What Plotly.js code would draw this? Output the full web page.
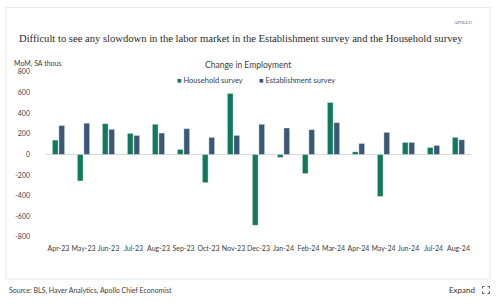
<!DOCTYPE html>
<html>
<head>
<meta charset="utf-8">
<script src="https://cdn.plot.ly/plotly-3.0.1.min.js"></script>
<style>
  html, body { margin: 0; padding: 0; background: #ffffff; }
  #chart { width: 500px; height: 304px; }
</style>
</head>
<body>
<div id="chart"></div>
<script>
// ---- Data (MoM, SA thousands) ----
const months = ["Apr-23","May-23","Jun-23","Jul-23","Aug-23","Sep-23","Oct-23","Nov-23","Dec-23",
                "Jan-24","Feb-24","Mar-24","Apr-24","May-24","Jun-24","Jul-24","Aug-24"];
const household = [140, -257, 299, 205, 293, 49, -273, 592, -686, -29, -185, 504, 26, -407, 117, 68, 166];
const establishment = [281, 303, 244, 185, 208, 251, 166, 185, 293, 257, 241, 309, 107, 215, 117, 88, 143];
const yTicks = [-800, -600, -400, -200, 0, 200, 400, 600, 800];
const seriesNames = ["Household survey", "Establishment survey"];

// ---- Layout geometry helpers ----
const W = 500, H = 304;
const M = {l: 46, r: 29, t: 72, b: 67};
const PW = W - M.l - M.r, PH = H - M.t - M.b;
const px = x => (x - M.l) / PW;
const py = y => (H - M.b - y) / PH;

const GREEN = "#13795d";
const BLUE = "#3c5877";
const TEXT = "#404040";
const SANS = "Lato, Open Sans, sans-serif";

const traces = [
  {
    type: "bar", name: seriesNames[0], x: months, y: household, showlegend: false,
    marker: {color: GREEN, line: {color: "rgba(255,255,255,0.7)", width: 0.5}},
    hoverinfo: "x+y+name"
  },
  {
    type: "bar", name: seriesNames[1], x: months, y: establishment, showlegend: false,
    marker: {color: BLUE, line: {color: "rgba(255,255,255,0.7)", width: 0.5}},
    hoverinfo: "x+y+name"
  }
];

// corner icon for "Expand"
function cornerPaths(cx, cy, s, a) {
  const p = [];
  const c = [[-1,-1],[1,-1],[-1,1],[1,1]];
  c.forEach(([dx, dy]) => {
    const x0 = cx + dx * s, y0 = cy + dy * s;
    p.push({type: "path", xref: "paper", yref: "paper",
      path: `M ${px(x0 - dx * a)} ${py(y0)} L ${px(x0)} ${py(y0)} L ${px(x0)} ${py(y0 - dy * a)}`,
      line: {color: "#555", width: 1}});
  });
  return p;
}

const legendAnn = (x, color, name) => ({
  xref: "paper", yref: "paper", x: px(x), y: py(80.7), xanchor: "left", yanchor: "middle",
  text: `<span style="color:${color}">■</span> ${name}`, showarrow: false,
  font: {family: SANS, size: 7.5, color: TEXT}
});

const layout = {
  width: W, height: H,
  margin: M,
  paper_bgcolor: "#ffffff", plot_bgcolor: "#ffffff",
  font: {family: SANS, size: 7, color: TEXT},
  barmode: "group", bargap: 0.48, bargroupgap: 0.12,
  showlegend: false,
  xaxis: {
    type: "category", categoryorder: "array", categoryarray: months,
    range: [-0.5, months.length - 0.5],
    showgrid: false, zeroline: false, showline: false, ticks: "",
    ticklabelstandoff: 6, tickangle: 0,
    tickfont: {family: SANS, size: 7, color: TEXT}
  },
  xaxis2: {
    overlaying: "x", anchor: "free", position: 0.5, side: "bottom",
    type: "linear", range: [-0.5, months.length - 0.5],
    tickmode: "linear", tick0: -0.5, dtick: 1,
    ticks: "outside", ticklen: 3, tickwidth: 1, tickcolor: "#d9d9d9",
    showticklabels: false, showgrid: false, zeroline: false, showline: false
  },
  yaxis: {
    range: [-800, 800], tickvals: yTicks, ticktext: yTicks.map(String),
    showgrid: false, zeroline: true, zerolinecolor: "#d9d9d9", zerolinewidth: 1,
    showline: false, ticks: "", ticklabelstandoff: 15,
    tickfont: {family: SANS, size: 7, color: TEXT}
  },
  annotations: [
    {xref: "paper", yref: "paper", x: px(16.5), y: py(38.5), xanchor: "left", yanchor: "middle",
     text: "Difficult to see any slowdown in the labor market in the Establishment survey and the Household survey",
     showarrow: false, font: {family: "Liberation Serif, serif", size: 10.6, color: "#2a2a2a"}},
    {xref: "paper", yref: "paper", x: px(475), y: py(22.7), xanchor: "right", yanchor: "middle",
     text: "APOLLO", showarrow: false, font: {family: "Liberation Serif, serif", size: 4.5, color: "#555"}},
    {xref: "paper", yref: "paper", x: px(11.5), y: py(64), xanchor: "left", yanchor: "middle",
     text: "MoM, SA thous", showarrow: false, font: {family: SANS, size: 7, color: TEXT}},
    {xref: "paper", yref: "paper", x: px(248), y: py(65), xanchor: "center", yanchor: "middle",
     text: "Change in Employment", showarrow: false, font: {family: SANS, size: 8.5, color: TEXT}},
    legendAnn(174.5, GREEN, seriesNames[0]),
    legendAnn(256.5, BLUE, seriesNames[1]),
    {xref: "paper", yref: "paper", x: px(6.5), y: py(290.5), xanchor: "left", yanchor: "middle",
     text: "Source: BLS, Haver Analytics, Apollo Chief Economist", showarrow: false,
     font: {family: SANS, size: 7, color: TEXT}},
    {xref: "paper", yref: "paper", x: px(477), y: py(290), xanchor: "right", yanchor: "middle",
     text: "Expand", showarrow: false, font: {family: SANS, size: 8, color: "#333"}}
  ],
  shapes: [
    {type: "rect", xref: "paper", yref: "paper", x0: px(6), x1: px(490), y0: py(7.5), y1: py(279),
     line: {color: "#e8e8e8", width: 1}, fillcolor: "rgba(0,0,0,0)", layer: "below"}
  ].concat(cornerPaths(486, 290, 3.5, 2))
};

Plotly.newPlot("chart", traces, layout, {displayModeBar: false, staticPlot: true});
</script>
</body>
</html>
